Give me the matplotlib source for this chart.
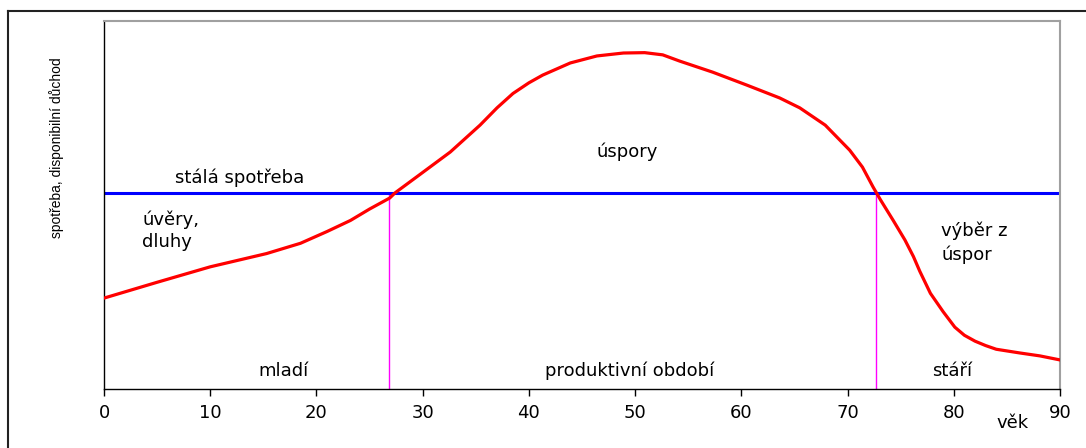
import matplotlib
matplotlib.use("Agg")
import matplotlib.pyplot as plt
from matplotlib.lines import Line2D

# data
age = [0, 5, 10, 15.3, 18.5, 21.0, 23.2, 25.0, 26.9, 27.4, 29.7, 32.6, 35.4,
       37.0, 38.5, 40.0, 41.3, 43.9, 46.4, 48.9, 50.9, 52.6, 54.2, 57.3, 60.5,
       63.6, 65.5, 67.9, 70.2, 71.4, 72.4, 73.1, 74.3, 75.4, 76.2, 76.8, 77.8,
       79.0, 80.1, 81.0, 82.0, 83.0, 84.0, 86.2, 88.1, 90]
income = [24.7, 29.0, 33.2, 36.8, 39.6, 42.8, 45.8, 48.9, 51.9, 53.3, 58.2, 64.4,
          71.7, 76.4, 80.3, 83.2, 85.3, 88.6, 90.5, 91.3, 91.4, 90.8, 89.1, 86.1,
          82.6, 79.1, 76.4, 71.7, 64.9, 60.3, 54.9, 51.4, 45.8, 40.5, 36.0, 32.0,
          26.0, 21.0, 16.8, 14.6, 13.0, 11.8, 10.8, 9.8, 9.0, 7.9]
consumption = 53.3
crossings = [26.8, 72.7]
xticks = [0, 10, 20, 30, 40, 50, 60, 70, 80, 90]

W, H = 1086, 448
fig = plt.figure(figsize=(W / 100, H / 100), dpi=100)
ax = fig.add_axes([104 / W, (H - 389) / H, (1060 - 104) / W, (389 - 21) / H])

ax.plot(age, income, color="#ff0000", lw=2.3, solid_joinstyle="round", zorder=3)
ax.axhline(consumption, color="#0000ff", lw=2.2, zorder=2)
for c in crossings:
    ax.plot([c, c], [0, consumption], color="#ff00ff", lw=1.0, zorder=1)

fam = "DejaVu Sans"
ax.set_xlim(0, 90)
ax.set_ylim(0, 100)
ax.set_xticks(xticks)
ax.set_xticklabels([str(t) for t in xticks], fontsize=13, family=fam)
ax.tick_params(axis="x", direction="out", length=5, width=1, pad=6)
ax.set_yticks([])
for s in ["top", "right"]:
    ax.spines[s].set_color("#a0a0a0")
    ax.spines[s].set_linewidth(1.5)
for s in ["left", "bottom"]:
    ax.spines[s].set_color("black")
    ax.spines[s].set_linewidth(1.0)

fs = 13
ax.text(12.8, 57.3, "stálá spotřeba", ha="center", va="center", fontsize=fs, family=fam)
ax.text(3.6, 43.0, "úvěry,\ndluhy", ha="left", va="center", fontsize=fs, family=fam, linespacing=1.35)
ax.text(49.3, 64.6, "úspory", ha="center", va="center", fontsize=fs, family=fam)
ax.text(78.8, 39.8, "výběr z\núspor", ha="left", va="center", fontsize=fs, family=fam, linespacing=1.35)
ax.text(16.9, 4.9, "mladí", ha="center", va="center", fontsize=fs, family=fam)
ax.text(49.5, 4.9, "produktivní období", ha="center", va="center", fontsize=fs, family=fam)
ax.text(79.8, 4.9, "stáří", ha="center", va="center", fontsize=fs, family=fam)

fig.text(1013 / W, 1 - 423 / H, "věk", ha="center", va="center", fontsize=fs, family=fam)
fig.text(57 / W, 1 - 148 / H, "spotřeba, disponibilní důchod", rotation=90,
         ha="center", va="center", fontsize=10, family="Liberation Sans")

# outer frame
fig.add_artist(Line2D([7.5 / W, 7.5 / W], [0, 1 - 11 / H], transform=fig.transFigure, color="#222222", lw=1.5))
fig.add_artist(Line2D([7.5 / W, 1], [1 - 11 / H, 1 - 11 / H], transform=fig.transFigure, color="#222222", lw=1.5))

fig.savefig("out.png", dpi=100)
